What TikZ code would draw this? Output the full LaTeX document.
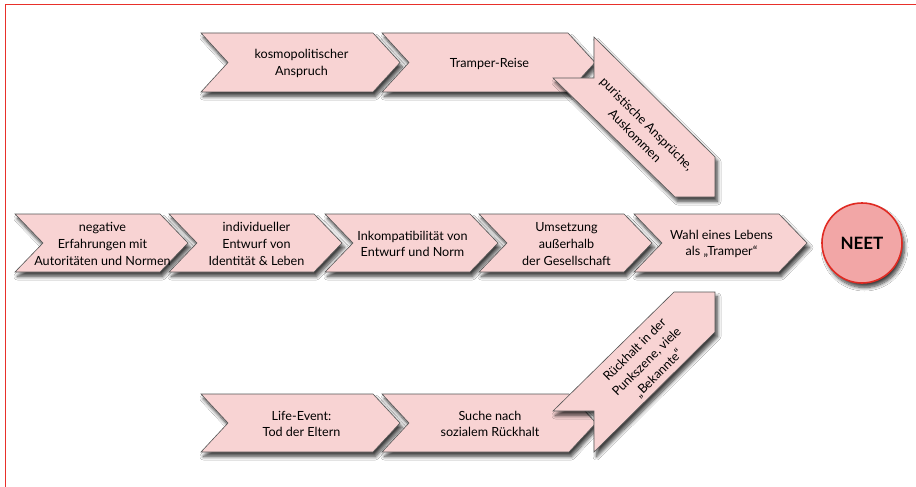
\documentclass[tikz,border=0pt]{standalone}
\usepackage{fontspec}
\setmainfont{Lato}
\usetikzlibrary{shadows,shadows.blur}
\definecolor{chevfill}{HTML}{F8D3D3}
\definecolor{chevline}{HTML}{555555}
\definecolor{neetfill}{HTML}{F2A6A6}
\definecolor{neetline}{HTML}{E02A22}
\definecolor{framered}{HTML}{E8302A}
\tikzset{
  chev/.style={fill=chevfill, draw=chevline, line width=0.6pt, line join=miter,
    blur shadow={shadow xshift=2.5pt, shadow yshift=-4.5pt, shadow blur radius=3.5pt, shadow blur steps=8, shadow opacity=75}},
  chevtext/.style={align=center, inner sep=0pt, font=\fontsize{12.6}{16.8}\selectfont, text=black},
}
% name, back x, top y, width, height, depth, text
\newcommand{\Chev}[7]{%
  \path[chev] (#2,#3) -- ++({#4-#6},0) -- ++(#6,{#5/2}) -- ++(-#6,{#5/2}) -- ++({-#4+#6},0) -- ++(#6,{-#5/2}) -- cycle;
  \node[chevtext] (#1) at ({#2+#4/2+1},{#3+#5/2+1}) {#7};}
\begin{document}
\begin{tikzpicture}[x=1pt,y=-1pt]
\useasboundingbox (0,0) rectangle (916,487);
\fill[white] (0,0) rectangle (916,487);
\draw[framered, line width=1.8pt] (5.5,490) -- (5.5,4.5) -- (920,4.5);

% top row
\Chev{kos}{201}{33}{199}{59}{27}{kosmopolitischer\\Anspruch}
\Chev{tramp}{382}{33}{213}{59}{27}{Tramper-Reise}
\path[chev] (594,37) -- (715,157) -- (715,197) -- (675,197) -- (553,78) -- (594,78) -- cycle;
\node[chevtext, rotate=-45] (pur) at (641,130) {puristische Ansprüche,\\Auskommen};

% main row
\Chev{neg}{15}{214}{173}{58}{28}{negative\\Erfahrungen mit\\Autoritäten und Normen}
\Chev{ind}{169}{214}{173}{58}{28}{individueller\\Entwurf von\\Identität \& Leben}
\Chev{ink}{325}{214}{173}{58}{28}{Inkompatibilität von\\Entwurf und Norm}
\Chev{ums}{479}{214}{173}{58}{28}{Umsetzung\\außerhalb\\der Gesellschaft}
\Chev{wahl}{634}{214}{173}{58}{28}{Wahl eines Lebens\\als „Tramper“}

\node[circle, minimum size=80pt, fill=neetfill, draw=neetline, line width=1.6pt,
  blur shadow={shadow xshift=2.5pt, shadow yshift=-4.5pt, shadow blur radius=3.5pt, shadow blur steps=8, shadow opacity=75},
  font=\fontsize{17}{18}\selectfont\bfseries] (neet) at (862,243) {NEET};

% bottom row
\Chev{life}{201}{394}{199}{58}{27}{Life-Event:\\Tod der Eltern}
\Chev{such}{382}{394}{214}{58}{27}{Suche nach\\sozialem Rückhalt}
\path[chev] (553,411) -- (674,292) -- (715,292) -- (715,332) -- (594,452) -- (594,411) -- cycle;
\node[chevtext, rotate=45] (rueck) at (647,362) {Rückhalt in der\\Punkszene, viele\\„Bekannte“};
\end{tikzpicture}
\end{document}
